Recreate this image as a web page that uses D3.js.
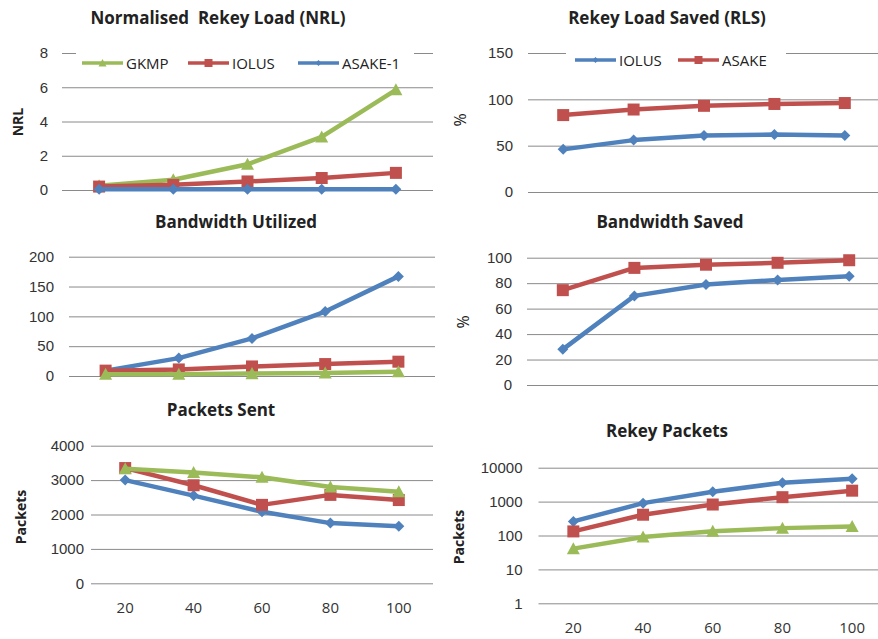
<!DOCTYPE html>
<html>
<head>
<meta charset="utf-8">
<script src="https://cdn.jsdelivr.net/npm/d3@7"></script>
<style>
  html, body { margin: 0; padding: 0; background: #fff; }
  svg { display: block; font-family: "Open Sans", "Noto Sans", sans-serif; }
  .title { white-space: pre; }
</style>
</head>
<body>
<svg id="chart" width="878" height="639"></svg>
<script>
// Group size on the x axis (shared by every panel)
const groupSizes = ["20", "40", "60", "80", "100"];

// Normalised Rekey Load
const nrlGKMP   = [0.25, 0.6, 1.5, 3.1, 5.85];
const nrlIOLUS  = [0.2, 0.3, 0.5, 0.7, 1.0];
const nrlASAKE1 = [0.04, 0.04, 0.04, 0.04, 0.04];
const nrlTicks  = [0, 2, 4, 6, 8];

// Rekey Load Saved (%)
const rlsIOLUS = [46, 56, 61, 62, 61];
const rlsASAKE = [83, 89, 93, 95, 96];
const rlsTicks = [0, 50, 100, 150];

// Bandwidth Utilized
const bwuASAKE = [9, 30, 63, 108, 167];
const bwuIOLUS = [9, 11, 16, 20, 24];
const bwuGKMP  = [3, 3, 4, 5, 7];
const bwuTicks = [0, 50, 100, 150, 200];

// Bandwidth Saved (%)
const bwsIOLUS = [28, 70, 79, 82.5, 85.5];
const bwsASAKE = [74.5, 92, 94.5, 96, 98];
const bwsTicks = [0, 20, 40, 60, 80, 100];

// Packets Sent
const psASAKE = [3000, 2550, 2080, 1750, 1660];
const psIOLUS = [3350, 2850, 2280, 2570, 2420];
const psGKMP  = [3330, 3220, 3080, 2800, 2660];
const psTicks = [0, 1000, 2000, 3000, 4000];

// Rekey Packets (log scale)
const rpASAKE = [260, 900, 1950, 3600, 4700];
const rpIOLUS = [132, 410, 820, 1350, 2100];
const rpGKMP  = [41, 90, 134, 165, 185];
const rpTicks = [1, 10, 100, 1000, 10000];

const GREEN = "#9bbb59", RED = "#c0504d", BLUE = "#4f81bd";

const svg = d3.select("#chart");

function marker(g, shape, color, x, y, s) {
  if (shape === "square") {
    g.append("rect").attr("x", x - s / 2).attr("y", y - s / 2)
      .attr("width", s).attr("height", s).attr("fill", color);
  } else if (shape === "diamond") {
    const r = s / 2;
    g.append("path").attr("d", `M${x},${y - r}L${x + r},${y}L${x},${y + r}L${x - r},${y}Z`).attr("fill", color);
  } else {
    const r = s / 2;
    g.append("path").attr("d", `M${x},${y - r}L${x + r},${y + r * 0.85}L${x - r},${y + r * 0.85}Z`).attr("fill", color);
  }
}

const markerSize = { square: 12, diamond: 11, triangle: 13 };

function panel(cfg) {
  const g = svg.append("g");
  const x = d3.scalePoint().domain(groupSizes).range([cfg.x0, cfg.x1]).padding(0.5);
  const y = (cfg.log ? d3.scaleLog() : d3.scaleLinear())
    .domain(cfg.domain).range([cfg.yBottom, cfg.yTop]);

  // horizontal gridlines with tick labels
  const axis = d3.axisLeft(y).tickValues(cfg.ticks).tickSize(-(Math.min(cfg.x1, 878) - cfg.x0))
    .tickPadding(cfg.labelGap).tickFormat(d3.format("d"));
  const ax = g.append("g").attr("transform", `translate(${cfg.x0},0)`).call(axis);
  ax.select(".domain").remove();
  ax.selectAll(".tick line").attr("stroke", "#8a8a8a").attr("stroke-width", 1);
  ax.selectAll(".tick text").attr("fill", "#333").style("font-size", "15px");

  // title
  g.append("text").attr("class", "title").attr("x", cfg.titleX).attr("y", cfg.titleY).attr("text-anchor", "middle")
    .style("font-size", "17px").style("font-weight", "bold").attr("fill", "#222").text(cfg.title);

  // y axis title
  if (cfg.yTitle) {
    g.append("text").attr("transform", `translate(${cfg.yTitleX},${cfg.yTitleY}) rotate(-90)`)
      .attr("text-anchor", "middle").attr("dominant-baseline", "middle")
      .style("font-size", cfg.yTitleBold ? "14px" : "16px")
      .style("font-weight", cfg.yTitleBold ? "bold" : "normal")
      .attr("fill", "#222").text(cfg.yTitle);
  }

  // x labels
  if (cfg.xLabelY) {
    g.selectAll(".xl").data(groupSizes).join("text").attr("class", "xl")
      .attr("x", d => x(d)).attr("y", cfg.xLabelY).attr("text-anchor", "middle")
      .style("font-size", "15px").attr("fill", "#333").text(d => d);
  }

  // legend
  if (cfg.legend) {
    const lg = g.append("g");
    lg.append("rect").attr("x", cfg.legend.x0).attr("y", cfg.legend.y - 10)
      .attr("width", cfg.legend.x1 - cfg.legend.x0).attr("height", 20).attr("fill", "#fff");
    cfg.legend.items.forEach(it => {
      lg.append("line").attr("x1", it.x).attr("x2", it.x + 41).attr("y1", cfg.legend.y).attr("y2", cfg.legend.y)
        .attr("stroke", it.color).attr("stroke-width", 3.5);
      marker(lg, it.shape, it.color, it.x + 20.5, cfg.legend.y, it.shape === "diamond" ? 6 : 8);
      lg.append("text").attr("x", it.x + 44).attr("y", cfg.legend.y).attr("dominant-baseline", "central")
        .style("font-size", "15px").attr("fill", "#222").text(it.name);
    });
  }

  // series
  const clip = "clip" + cfg.id;
  g.append("clipPath").attr("id", clip).append("rect").attr("x", 0).attr("y", 0).attr("width", 878).attr("height", 639);
  cfg.series.forEach(s => {
    const sg = g.append("g").attr("clip-path", `url(#${clip})`);
    const line = d3.line().x((d, i) => x(groupSizes[i])).y(d => y(d));
    sg.append("path").attr("d", line(s.values)).attr("fill", "none")
      .attr("stroke", s.color).attr("stroke-width", 4.5).attr("stroke-linejoin", "round");
    s.values.forEach((v, i) => marker(sg, s.shape, s.color, x(groupSizes[i]), y(v), markerSize[s.shape]));
  });
}

panel({
  id: 1, title: "Normalised  Rekey Load (NRL)", titleX: 218, titleY: 24,
  x0: 62, x1: 433, yTop: 53, yBottom: 190, domain: [0, 8], ticks: nrlTicks, labelGap: 14,
  yTitle: "NRL", yTitleBold: true, yTitleX: 19, yTitleY: 122,
  legend: { x0: 76, x1: 414, y: 63, items: [
    { name: "GKMP", color: GREEN, shape: "triangle", x: 82 },
    { name: "IOLUS", color: RED, shape: "square", x: 188 },
    { name: "ASAKE-1", color: BLUE, shape: "diamond", x: 298 } ] },
  series: [
    { values: nrlGKMP, color: GREEN, shape: "triangle" },
    { values: nrlIOLUS, color: RED, shape: "square" },
    { values: nrlASAKE1, color: BLUE, shape: "diamond" } ]
});

panel({
  id: 2, title: "Rekey Load Saved (RLS)", titleX: 667, titleY: 24,
  x0: 528, x1: 880, yTop: 53, yBottom: 192, domain: [0, 150], ticks: rlsTicks, labelGap: 15,
  yTitle: "%", yTitleX: 462, yTitleY: 120,
  legend: { x0: 566, x1: 786, y: 60, items: [
    { name: "IOLUS", color: BLUE, shape: "diamond", x: 575 },
    { name: "ASAKE", color: RED, shape: "square", x: 678 } ] },
  series: [
    { values: rlsIOLUS, color: BLUE, shape: "diamond" },
    { values: rlsASAKE, color: RED, shape: "square" } ]
});

panel({
  id: 3, title: "Bandwidth Utilized", titleX: 236, titleY: 228,
  x0: 69, x1: 435, yTop: 256.7, yBottom: 376, domain: [0, 200], ticks: bwuTicks, labelGap: 15,
  series: [
    { values: bwuASAKE, color: BLUE, shape: "diamond" },
    { values: bwuIOLUS, color: RED, shape: "square" },
    { values: bwuGKMP, color: GREEN, shape: "triangle" } ]
});

panel({
  id: 4, title: "Bandwidth Saved", titleX: 670, titleY: 228,
  x0: 527, x1: 885, yTop: 257.7, yBottom: 385, domain: [0, 100], ticks: bwsTicks, labelGap: 15,
  yTitle: "%", yTitleX: 465, yTitleY: 322,
  series: [
    { values: bwsIOLUS, color: BLUE, shape: "diamond" },
    { values: bwsASAKE, color: RED, shape: "square" } ]
});

panel({
  id: 5, title: "Packets Sent", titleX: 221, titleY: 416,
  x0: 91, x1: 433, yTop: 445.7, yBottom: 583.3, domain: [0, 4000], ticks: psTicks, labelGap: 7,
  yTitle: "Packets", yTitleBold: true, yTitleX: 22, yTitleY: 517, xLabelY: 613,
  series: [
    { values: psASAKE, color: BLUE, shape: "diamond" },
    { values: psIOLUS, color: RED, shape: "square" },
    { values: psGKMP, color: GREEN, shape: "triangle" } ]
});

panel({
  id: 6, title: "Rekey Packets", titleX: 667, titleY: 437,
  x0: 538.5, x1: 887, yTop: 467.7, yBottom: 603.3, domain: [1, 10000], log: true, ticks: rpTicks, labelGap: 16,
  yTitle: "Packets", yTitleBold: true, yTitleX: 460, yTitleY: 537, xLabelY: 633,
  series: [
    { values: rpASAKE, color: BLUE, shape: "diamond" },
    { values: rpIOLUS, color: RED, shape: "square" },
    { values: rpGKMP, color: GREEN, shape: "triangle" } ]
});
</script>
</body>
</html>
